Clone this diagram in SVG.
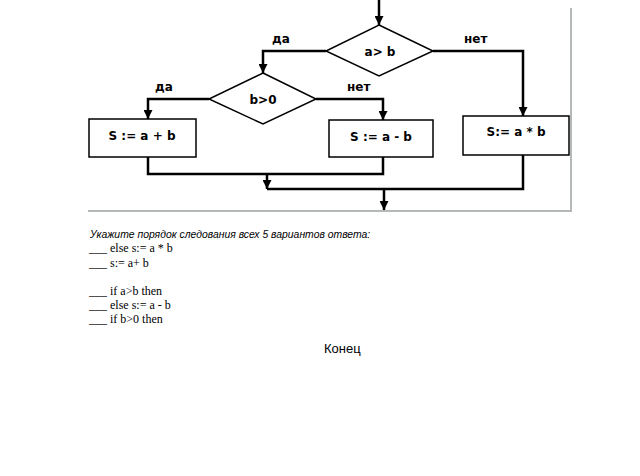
<svg xmlns="http://www.w3.org/2000/svg" width="640" height="476" viewBox="0 0 640 476">
<style>
.shape{fill:#fff;stroke:#000;stroke-width:1.5}
.line{fill:none;stroke:#000;stroke-width:2.5;stroke-linejoin:miter}
.lbl{font-family:"DejaVu Sans","Liberation Sans",sans-serif;font-weight:bold;font-size:12px;fill:#000}
.node{font-family:"DejaVu Sans","Liberation Sans",sans-serif;font-weight:bold;font-size:12px;fill:#000;text-anchor:middle}
.q{font-family:"Liberation Serif",serif;font-size:12px;fill:#000}
.frame{stroke:#b4b8b6;stroke-width:2;fill:none}
</style>
<defs>
<marker id="ah" viewBox="0 0 10 10" refX="10" refY="5" markerWidth="3.6" markerHeight="3.6" orient="auto" markerUnits="strokeWidth">
<path d="M0,0 L10,5 L0,10 z" fill="#000"/>
</marker>
</defs>
<path class="frame" d="M571,8 V211 H88"/>
<g id="connectors">
<path class="line" d="M379,0 V25" marker-end="url(#ah)"/>
<path class="line" d="M326,51 H263 V73" marker-end="url(#ah)"/>
<path class="line" d="M433,51 H523 V116" marker-end="url(#ah)"/>
<path class="line" d="M209,99 H148 V119" marker-end="url(#ah)"/>
<path class="line" d="M316,99 H383 V120" marker-end="url(#ah)"/>
<path class="line" d="M148,157 V174 H383 V157"/>
<path class="line" d="M267,174 V189" marker-end="url(#ah)"/>
<path class="line" d="M267,189 H523 V155"/>
<path class="line" d="M384,189 V210" marker-end="url(#ah)"/>
</g>
<g id="labels">
<text class="lbl" x="272" y="43">да</text>
<text class="lbl" x="464" y="43">нет</text>
<text class="lbl" x="155" y="91">да</text>
<text class="lbl" x="347" y="91">нет</text>
</g>
<g id="cond1">
<polygon class="shape" points="379,25 433,51 379,76 326,51"/>
<text class="node" x="380" y="56">a&gt; b</text>
</g>
<g id="cond2">
<polygon class="shape" points="263,73 316,99 263,124 209,99"/>
<text class="node" x="263" y="104">b&gt;0</text>
</g>
<g id="box1">
<rect class="shape" x="89" y="119" width="107" height="38"/>
<text class="node" x="142" y="140">S := a + b</text>
</g>
<g id="box2">
<rect class="shape" x="329" y="120" width="104" height="37"/>
<text class="node" x="381" y="141">S := a - b</text>
</g>
<g id="box3">
<rect class="shape" x="463" y="116" width="106" height="39"/>
<text class="node" x="516" y="136">S:= a * b</text>
</g>
<g id="question">
<text x="90" y="238" style="font-family:'Liberation Sans',Arial,sans-serif;font-style:italic;font-size:10.4px;fill:#000">Укажите порядок следования всех 5 вариантов ответа:</text>
<text class="q" x="89" y="252">___ else s:= a * b</text>
<text class="q" x="89" y="267">___ s:= a+ b</text>
<text class="q" x="89" y="295">___ if a&gt;b then</text>
<text class="q" x="89" y="309">___ else s:= a - b</text>
<text class="q" x="89" y="323">___ if b&gt;0 then</text>
</g>
<text x="324" y="353" style="font-family:'Liberation Sans',Arial,sans-serif;font-size:13px;fill:#000">Конец</text>
</svg>
